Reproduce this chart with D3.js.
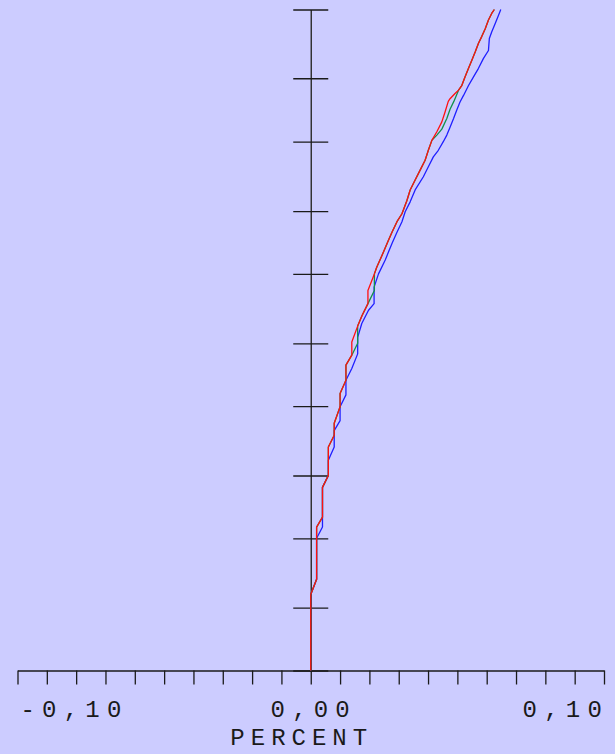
<!DOCTYPE html>
<html>
<head>
<meta charset="utf-8">
<script src="https://cdn.jsdelivr.net/npm/d3@7"></script>
<style>
  html, body { margin: 0; padding: 0; background: #ccccff; }
  svg { display: block; }
  text { font-family: "Liberation Mono", "DejaVu Sans Mono", monospace; fill: #1a1a1a; }
</style>
</head>
<body>
<svg id="chart" width="615" height="754"></svg>
<script>
// Horizontal axis: percent change, one tick every 0,01
const xDomain = [-0.10, 0.10];
const xTickStep = 0.01;
const xTickLabels = [
  { value: -0.10, text: "-0,10" },
  { value: 0.00, text: "0,00" },
  { value: 0.10, text: "0,10" }
];
const axisTitle = "PERCENT";

// Vertical axis: cumulative share, unlabeled ticks
const yDomain = [0, 100];
const yTickValues = [0, 9.5, 20, 29.5, 40, 49.5, 60, 69.5, 80, 89.6, 100];

// Series as [percent, cumulative share] vertices
const blueSeries = [
  [0.000, 0], [0.000, 11.5], [0.002, 13.8], [0.002, 20.0], [0.004, 21.7], [0.004, 27.7],
  [0.006, 29.5], [0.006, 31.8], [0.008, 33.8], [0.008, 36.3], [0.010, 37.8], [0.010, 39.9],
  [0.012, 41.7], [0.012, 43.9], [0.014, 45.7], [0.016, 47.9], [0.016, 50.4], [0.0174, 52.5],
  [0.0197, 54.5], [0.0216, 55.5], [0.0216, 58.0], [0.0231, 60.0], [0.0254, 62.1], [0.0265, 63.3],
  [0.0277, 64.6], [0.0294, 66.3], [0.0311, 67.9], [0.0322, 69.4], [0.0339, 70.9], [0.0356, 72.7],
  [0.0384, 74.7], [0.0401, 76.2], [0.0418, 77.7], [0.0435, 78.7], [0.0452, 80.0], [0.0464, 81.0],
  [0.0475, 82.2], [0.0487, 83.5], [0.0498, 84.8], [0.0509, 86.0], [0.0521, 87.0], [0.0538, 88.5],
  [0.0555, 89.8], [0.0572, 91.1], [0.0589, 92.6], [0.0606, 93.8], [0.0609, 95.6], [0.0617, 96.6],
  [0.0629, 97.9], [0.0640, 99.1], [0.0648, 100.0]
];

const greenSeries = [
  [0.000, 0], [0.000, 11.5], [0.002, 13.8], [0.002, 21.7], [0.004, 23.2], [0.004, 27.7],
  [0.006, 29.5], [0.006, 33.8], [0.008, 35.6], [0.008, 37.4], [0.010, 39.9], [0.010, 41.9],
  [0.012, 43.9], [0.012, 46.2], [0.014, 47.7], [0.016, 49.5], [0.016, 52.1], [0.0175, 53.7],
  [0.0195, 55.5], [0.0217, 57.5], [0.0217, 60.0], [0.0225, 61.0], [0.0248, 63.3], [0.0265, 65.1],
  [0.0277, 66.3], [0.0294, 67.9], [0.0311, 69.1], [0.0328, 71.1], [0.0339, 72.7], [0.0356, 74.2],
  [0.0373, 75.7], [0.0390, 77.2], [0.0401, 78.7], [0.0413, 80.2], [0.0430, 81.0], [0.0447, 81.9],
  [0.0464, 83.5], [0.0475, 84.9], [0.0488, 86.1], [0.0504, 87.8], [0.0515, 88.5], [0.0526, 89.8],
  [0.0538, 91.1], [0.0549, 92.3], [0.0561, 93.6], [0.0572, 94.9], [0.0583, 95.9], [0.0595, 97.1],
  [0.0606, 98.4], [0.0617, 99.4], [0.0626, 100.0]
];

const redSeries = [
  [0.000, 0], [0.000, 11.5], [0.002, 13.8], [0.002, 21.7], [0.004, 23.2], [0.004, 27.7],
  [0.006, 29.5], [0.006, 33.8], [0.008, 35.6], [0.008, 37.4], [0.010, 39.9], [0.010, 41.9],
  [0.012, 43.9], [0.012, 46.2], [0.014, 47.7], [0.014, 49.7], [0.016, 52.1], [0.0175, 53.7],
  [0.0195, 55.5], [0.0195, 57.5], [0.0217, 60.0], [0.0225, 61.0], [0.0248, 63.3], [0.0265, 65.1],
  [0.0277, 66.3], [0.0294, 67.9], [0.0311, 69.1], [0.0328, 71.1], [0.0339, 72.7], [0.0356, 74.2],
  [0.0373, 75.7], [0.0390, 77.2], [0.0401, 78.7], [0.0413, 80.2], [0.0430, 81.5], [0.0447, 83.0],
  [0.0458, 84.5], [0.0469, 86.1], [0.0475, 86.5], [0.0492, 87.3], [0.0504, 87.8], [0.0515, 88.5],
  [0.0526, 89.8], [0.0538, 91.1], [0.0549, 92.3], [0.0561, 93.6], [0.0572, 94.9], [0.0583, 95.9],
  [0.0595, 97.1], [0.0606, 98.4], [0.0617, 99.4], [0.0626, 100.0]
];

const seriesList = [
  { name: "blue", color: "#1f1fff", values: blueSeries },
  { name: "green", color: "#12914a", values: greenSeries },
  { name: "red", color: "#ff1010", values: redSeries }
];

const svg = d3.select("#chart");
svg.append("rect").attr("width", 615).attr("height", 754).attr("fill", "#ccccff");

const x = d3.scaleLinear().domain(xDomain).range([17.5, 604]);
const y = d3.scaleLinear().domain(yDomain).range([670.5, 9.5]);

// Horizontal axis with downward ticks
const xTicks = d3.range(0, 21).map(i => +(xDomain[0] + i * xTickStep).toFixed(2));
const xAxis = d3.axisBottom(x)
  .tickValues(xTicks)
  .tickSize(14)
  .tickSizeOuter(0)
  .tickFormat("");
const gx = svg.append("g").attr("transform", `translate(0,${y(0)})`).call(xAxis);
gx.select(".domain").attr("stroke", "#1a1a1a").attr("stroke-width", 1.3);
gx.selectAll(".tick line").attr("stroke", "#1a1a1a").attr("stroke-width", 1.3);

// Vertical axis through zero with ticks on both sides
const yAxis = d3.axisLeft(y)
  .tickValues(yTickValues)
  .tickSize(0)
  .tickSizeOuter(0)
  .tickFormat("");
const gy = svg.append("g").attr("transform", `translate(${x(0)},0)`).call(yAxis);
gy.select(".domain").attr("stroke", "#2a2a2a").attr("stroke-width", 1.4);
gy.selectAll(".tick line")
  .attr("x1", -17.5).attr("x2", 17.5)
  .attr("stroke", "#1a1a1a").attr("stroke-width", 1.3);

// Tick labels along the bottom
const anchorFor = (v) => v === xDomain[0] ? "start" : (v === xDomain[1] ? "end" : "middle");
svg.append("g").selectAll("text")
  .data(xTickLabels)
  .join("text")
  .attr("x", d => d.value === xDomain[0] ? x(d.value) + 3 : (d.value === xDomain[1] ? x(d.value) + 5 : x(d.value) + 3))
  .attr("y", 717)
  .attr("text-anchor", d => anchorFor(d.value))
  .attr("font-size", 24)
  .attr("letter-spacing", 7.2)
  .text(d => d.text);

svg.append("text")
  .attr("x", x(0) - 9)
  .attr("y", 745)
  .attr("text-anchor", "middle")
  .attr("font-size", 24)
  .attr("letter-spacing", 6)
  .text(axisTitle);

// Lines
const line = d3.line().x(d => x(d[0])).y(d => y(d[1]));
svg.append("g").selectAll("path")
  .data(seriesList)
  .join("path")
  .attr("d", d => line(d.values))
  .attr("fill", "none")
  .attr("stroke", d => d.color)
  .attr("stroke-width", 1.3)
  .attr("stroke-linejoin", "round");
</script>
</body>
</html>
